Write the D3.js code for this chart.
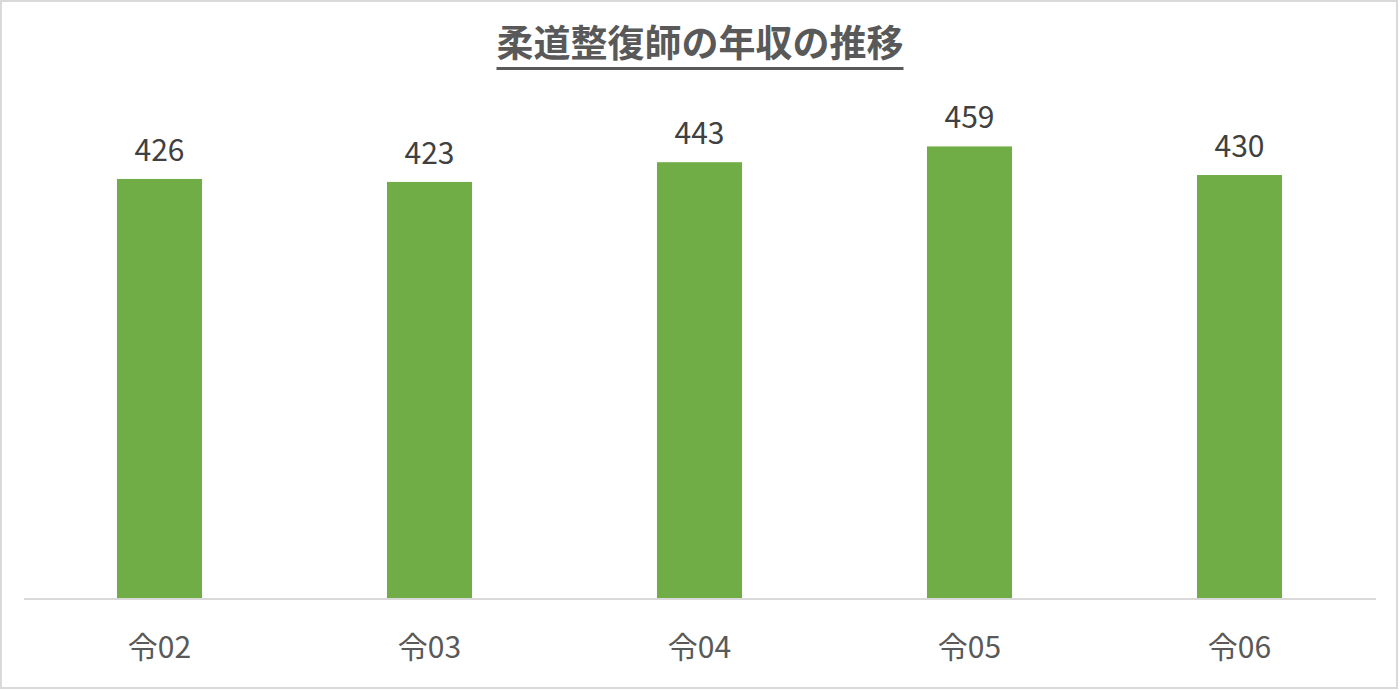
<!DOCTYPE html>
<html>
<head>
<meta charset="utf-8">
<script src="https://cdn.jsdelivr.net/npm/d3@7"></script>
<style>
  html, body { margin: 0; padding: 0; background: #fff; }
  svg { display: block; }
</style>
</head>
<body>
<svg id="chart" width="1400" height="691"></svg>
<script>
const years = ["令02", "令03", "令04", "令05", "令06"]
const incomes = [426, 423, 443, 459, 430]
const titleText = "柔道整復師の年収の推移"

const svg = d3.select("#chart")
const font = "'Noto Sans CJK JP', 'Noto Sans', sans-serif"

// outer frame
svg.append("rect")
  .attr("x", 1).attr("y", 1)
  .attr("width", 1396).attr("height", 687)
  .attr("fill", "#fff")
  .attr("stroke", "#d9d9d9")
  .attr("stroke-width", 2)

const x = d3.scaleBand()
  .domain(years)
  .range([24.5, 1374.5])
  .paddingInner(0.685)
  .paddingOuter(0.3425)

const y = d3.scaleLinear()
  .domain([0, 500])
  .range([599, 106])

svg.append("g").selectAll("rect")
  .data(incomes)
  .join("rect")
  .attr("x", (d, i) => x(years[i]))
  .attr("y", d => y(d))
  .attr("width", x.bandwidth())
  .attr("height", d => y(0) - y(d))
  .attr("fill", "#70ad47")

// value labels
svg.append("g").selectAll("text")
  .data(incomes)
  .join("text")
  .attr("x", (d, i) => x(years[i]) + x.bandwidth() / 2)
  .attr("y", d => y(d) - 18)
  .attr("text-anchor", "middle")
  .attr("font-family", font)
  .attr("font-size", 30)
  .attr("fill", "#404040")
  .text(d => d)

// category axis
const axis = svg.append("g")
  .attr("transform", `translate(0,${y(0)})`)
  .call(d3.axisBottom(x).tickSize(0).tickPadding(38))
axis.select(".domain").attr("stroke", "#d9d9d9").attr("stroke-width", 2)
  .attr("d", `M24,0H1376`)
axis.selectAll("text")
  .attr("font-family", font)
  .attr("font-size", 30)
  .attr("fill", "#595959")

// title, underlined
const title = svg.append("text")
  .attr("x", 700)
  .attr("y", 57)
  .attr("text-anchor", "middle")
  .attr("font-family", font)
  .attr("font-weight", "bold")
  .attr("font-size", 37)
  .attr("fill", "#595959")
  .text(titleText)

const bb = title.node().getBBox()
svg.append("line")
  .attr("x1", bb.x).attr("x2", bb.x + bb.width)
  .attr("y1", 68.5).attr("y2", 68.5)
  .attr("stroke", "#595959")
  .attr("stroke-width", 3)
</script>
</body>
</html>
